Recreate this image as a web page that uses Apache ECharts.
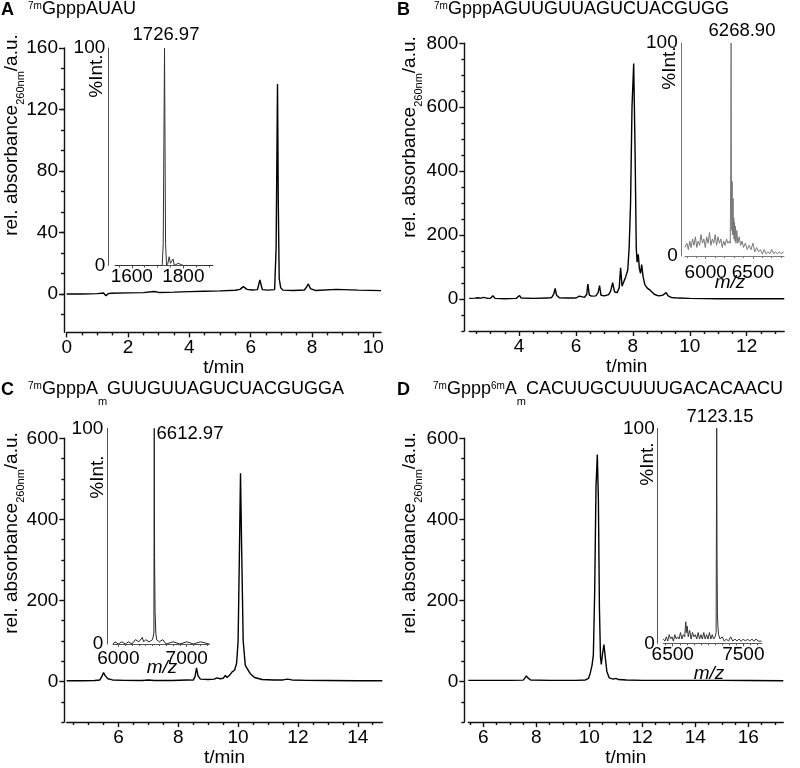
<!DOCTYPE html>
<html><head><meta charset="utf-8">
<script src="https://cdn.jsdelivr.net/npm/echarts@6/dist/echarts.min.js"></script>
<style>html,body{margin:0;padding:0;background:#fff}#c{width:800px;height:768px}</style>
</head><body><div id="c"></div>
<script>
// ---------- DATA ----------
// Panel A chromatogram  [t/min, absorbance]
const chromA = [[0,0],[0.5,0],[1.0,0.2],[1.2,0.6],[1.28,-1.2],[1.35,0.2],[1.45,0.5],[2.0,0.7],[2.5,0.9],[2.85,1.6],[3.0,1.0],[3.5,1.2],[4.0,1.5],[4.5,1.8],[5.0,2.0],[5.5,2.4],[5.65,3.0],[5.76,4.8],[5.88,3.0],[6.05,2.6],[6.22,2.8],[6.3,9.1],[6.38,2.8],[6.55,2.5],[6.78,2.8],[6.83,30],[6.875,136.6],[6.9,60],[6.93,10],[6.98,4],[7.05,2.5],[7.4,2.3],[7.75,2.6],[7.82,4.5],[7.88,6.5],[7.95,3.5],[8.1,2.3],[8.8,3.0],[9.5,2.5],[10.25,2.2]];
// Panel B chromatogram
const chromB = [[2.25,2],[2.45,3],[2.55,4],[2.6,6],[2.66,3],[2.75,5],[2.8,3],[2.9,2],[3.0,2],[3.08,10],[3.16,2],[3.5,1],[3.9,2],[3.96,4],[4.02,11],[4.08,3],[4.5,2],[5.0,3],[5.15,5],[5.22,15],[5.27,33],[5.32,12],[5.42,4],[5.7,3],[5.92,3],[5.97,7],[6.02,4],[6.08,8],[6.12,9],[6.17,4],[6.3,5],[6.38,15],[6.42,47],[6.47,12],[6.55,9],[6.7,10],[6.78,20],[6.83,42],[6.88,12],[7.0,10],[7.15,14],[7.22,25],[7.29,51],[7.36,22],[7.45,20],[7.52,35],[7.57,98],[7.62,40],[7.68,38],[7.75,70],[7.82,90],[7.87,160],[7.92,300],[7.97,600],[8.03,737],[8.08,450],[8.12,160],[8.15,115],[8.19,140],[8.23,95],[8.27,80],[8.31,108],[8.36,70],[8.42,45],[8.5,35],[8.6,28],[8.75,15],[8.9,10],[9.05,12],[9.12,18],[9.17,20],[9.24,10],[9.35,5],[9.6,3],[10.0,2],[11.0,1],[12.0,1],[13.32,1]];
// Panel C chromatogram
const chromC = [[4.27,2],[4.8,2],[5.2,2.5],[5.38,4],[5.44,12],[5.5,22],[5.56,14],[5.65,7],[5.8,4],[6.2,3],[6.8,2.5],[7.0,4],[7.2,2.5],[7.8,2.5],[8.3,4],[8.5,3.5],[8.56,12],[8.61,34],[8.66,14],[8.74,6],[9.0,5],[9.2,6],[9.29,9],[9.34,11],[9.4,7],[9.5,8],[9.57,15],[9.63,10],[9.72,16],[9.8,24],[9.88,28],[9.95,45],[10.0,100],[10.04,300],[10.08,514],[10.12,320],[10.17,100],[10.24,40],[10.32,30],[10.4,20],[10.55,10],[10.8,5],[11.2,4],[11.5,4],[11.65,6],[11.8,4],[12.3,3],[13,2.5],[14,2],[14.82,2]];
// Panel D chromatogram
const chromD = [[5.43,3],[6,3],[7,3],[7.5,3.5],[7.57,9],[7.62,14],[7.68,9],[7.78,4],[8.5,3],[9.5,3],[9.85,4],[9.97,8],[10.03,20],[10.1,40],[10.15,65],[10.2,220],[10.25,480],[10.3,560],[10.34,450],[10.38,180],[10.42,60],[10.45,42],[10.5,70],[10.55,91],[10.6,60],[10.66,25],[10.75,9],[10.9,6],[11.0,8],[11.1,5],[11.4,4],[12,3],[13,3],[14,3],[15,3],[16,2.5],[17.32,2]];

// Mass spectra insets [m/z, %Int.]
const msA = [[1536,0],[1600,0],[1650,0],[1700,0],[1718,0],[1722,10],[1727,100],[1731,10],[1735,0],[1740,1],[1745,4],[1750,1],[1755,2],[1760,3],[1765,0],[1780,1],[1800,0],[1850,0],[1914,0]];
const msB = [[5780,4],[5800,6],[5815,3],[5830,7],[5845,4],[5860,8],[5875,5],[5890,9],[5905,4],[5920,7],[5935,5],[5950,10],[5965,6],[5980,8],[5995,4],[6010,9],[6025,6],[6040,11],[6055,5],[6070,8],[6085,6],[6100,10],[6115,5],[6130,9],[6145,6],[6160,8],[6175,4],[6190,7],[6205,5],[6220,8],[6235,6],[6250,7],[6260,6],[6265,40],[6269,100],[6273,30],[6277,12],[6280,35],[6283,10],[6287,15],[6290,27],[6293,10],[6297,18],[6300,8],[6305,16],[6310,7],[6315,14],[6320,6],[6330,12],[6340,6],[6355,9],[6370,5],[6385,7],[6400,4],[6420,6],[6440,3],[6460,5],[6480,3],[6500,6],[6520,2],[6540,4],[6560,2],[6580,3],[6600,1],[6620,3],[6640,1],[6660,2],[6680,1],[6700,3],[6720,1],[6740,2],[6760,1],[6780,2],[6800,1],[6828,2]];
const msC = [[5922,0],[5950,1],[6000,0],[6050,1],[6100,0],[6150,1],[6200,0],[6250,2],[6300,1],[6350,3],[6370,1],[6400,2],[6450,1],[6500,2],[6520,5],[6525,100],[6530,40],[6537,15],[6548,5],[6560,2],[6600,1],[6650,2],[6700,0],[6800,1],[6900,0],[7000,1],[7100,0],[7200,1],[7328,0]];
const msD = [[6367,2],[6390,1],[6410,3],[6430,1],[6450,4],[6470,2],[6490,3],[6510,1],[6530,4],[6550,2],[6570,3],[6590,2],[6610,5],[6630,2],[6650,4],[6670,3],[6685,10],[6695,5],[6705,8],[6720,3],[6740,6],[6760,2],[6780,5],[6800,3],[6820,4],[6840,2],[6860,5],[6880,2],[6900,4],[6920,2],[6940,5],[6960,2],[6980,4],[7000,2],[7020,5],[7040,2],[7060,4],[7080,2],[7100,3],[7115,5],[7123,100],[7128,40],[7133,14],[7140,8],[7150,4],[7170,2],[7200,3],[7230,1],[7260,2],[7290,1],[7320,3],[7350,1],[7380,2],[7410,1],[7440,2],[7470,1],[7500,2],[7530,1],[7560,2],[7590,1],[7620,2],[7650,1],[7680,2],[7710,1],[7758,1]];

// Tick labels
const ticksAx = [0,2,4,6,8,10], ticksAy = [0,40,80,120,160];
const ticksBx = [4,6,8,10,12], ticksBy = [0,200,400,600,800];
const ticksCx = [6,8,10,12,14], ticksCy = [0,200,400,600];
const ticksDx = [6,8,10,12,14,16], ticksDy = [0,200,400,600];
const insAx = [1600,1800], insBx = [6000,6500], insCx = [6000,7000], insDx = [6500,7500];
const insY = [0,100];

// Texts
const peakLabels = ['1726.97','6268.90','6612.97','7123.15'];
const panelLetters = ['A','B','C','D'];

// ---------- helpers ----------
const FONT = '"Liberation Sans", Arial, Helvetica, sans-serif';
function steps(a, b, s) { const r = []; for (let v = a; v <= b + 1e-9; v += s) r.push(+v.toFixed(4)); return r; }
function minus(arr, excl) { return arr.filter(v => !excl.some(e => Math.abs(e - v) < 1e-6)); }
const plain = v => String(v);

const grids = [], xAxes = [], yAxes = [], series = [];

function addPanel(p) {
  const gi = grids.length;
  grids.push({ left: p.g[0], top: p.g[1], width: p.g[2], height: p.g[3], containLabel: false });
  const col = p.color, lw = p.axisW;
  const lab = { fontSize: p.fs, color: '#000', fontFamily: FONT, formatter: plain, hideOverlap: false, showMinLabel: true, showMaxLabel: true };
  xAxes.push({ type: 'value', gridIndex: gi, position: 'bottom', min: p.x[0], max: p.x[1],
    axisLine: { show: true, onZero: false, lineStyle: { color: col, width: lw } },
    axisTick: { show: true, length: p.tl, customValues: p.xMaj, lineStyle: { color: col, width: lw } },
    axisLabel: Object.assign({ show: true, customValues: p.xMaj, margin: p.xm }, lab),
    splitLine: { show: false },
    name: p.xName || '', nameLocation: 'middle', nameGap: p.xNameGap || 0,
    nameTextStyle: { fontSize: p.fs, color: '#000', fontFamily: FONT } });
  const xi = xAxes.length - 1;
  xAxes.push({ type: 'value', gridIndex: gi, position: 'bottom', min: p.x[0], max: p.x[1],
    axisLine: { show: false, onZero: false },
    axisTick: { show: true, length: p.tlm, customValues: p.xMin, lineStyle: { color: col, width: lw } },
    axisLabel: { show: false }, splitLine: { show: false } });
  yAxes.push({ type: 'value', gridIndex: gi, position: 'left', offset: p.yOff, min: p.y[0], max: p.y[1],
    axisLine: { show: true, onZero: false, lineStyle: { color: col, width: lw } },
    axisTick: { show: p.yTicks !== false, length: p.tl, customValues: p.yMaj, lineStyle: { color: col, width: lw } },
    axisLabel: Object.assign({ show: true, customValues: p.yMaj, margin: p.ym }, lab),
    splitLine: { show: false } });
  const yi = yAxes.length - 1;
  if (p.yMin && p.yMin.length) {
    yAxes.push({ type: 'value', gridIndex: gi, position: 'left', offset: p.yOff, min: p.y[0], max: p.y[1],
      axisLine: { show: false, onZero: false },
      axisTick: { show: true, length: p.tlm, customValues: p.yMin, lineStyle: { color: col, width: lw } },
      axisLabel: { show: false }, splitLine: { show: false } });
  }
  series.push({ type: 'line', xAxisIndex: xi, yAxisIndex: yi, data: p.data, showSymbol: false, symbol: 'none',
    clip: true, lineStyle: { color: p.lineColor, width: p.lineW }, z: p.z || 2 });
}

const MAIN = { color: '#111', axisW: 1.4, tl: 5, tlm: 3, fs: 19, lineColor: '#000', lineW: 1.4, xm: 6, ym: 6, xName: 't/min', xNameGap: 24 };
const INS = { color: '#555', axisW: 1, tl: 3, tlm: 2, fs: 19, lineW: 1, z: 3 };

addPanel(Object.assign({}, MAIN, { g: [66.7, 48, 314.3, 284.4], x: [0, 10.25], y: [-25, 160], yOff: 2.7,
  xMaj: ticksAx, xMin: minus(steps(0, 10, 0.5), ticksAx), yMaj: ticksAy, yMin: minus(steps(-13.333, 160, 40/3), ticksAy).filter(v => v > -25), data: chromA }));
addPanel(Object.assign({}, MAIN, { g: [469.2, 43.3, 315, 287.7], x: [2.25, 13.318], y: [-100, 800], yOff: 4.9,
  xMaj: ticksBx, xMin: minus(steps(2.5, 13, 0.5), ticksBx), yMaj: ticksBy, yMin: minus(steps(-100, 800, 50), ticksBy), data: chromB }));
addPanel(Object.assign({}, MAIN, { g: [66.7, 438.3, 315.6, 286.7], x: [4.27, 14.82], y: [-100, 600], yOff: 2.4,
  xMaj: ticksCx, xMin: minus(steps(4.5, 14.5, 0.5), ticksCx), yMaj: ticksCy, yMin: minus(steps(-100, 600, 50), ticksCy), data: chromC }));
addPanel(Object.assign({}, MAIN, { g: [468.3, 438.3, 315, 286.7], x: [5.43, 17.32], y: [-100, 600], yOff: 4,
  xMaj: ticksDx, xMin: minus(steps(5.5, 17, 0.5), ticksDx), yMaj: ticksDy, yMin: minus(steps(-100, 600, 50), ticksDy), data: chromD }));

addPanel(Object.assign({}, INS, { g: [115, 48, 98, 217.5], x: [1535, 1915], y: [0, 100], yOff: 6.7, xm: 2, ym: 3,
  xMaj: insAx, xMin: minus(steps(1550, 1900, 50), insAx), yMaj: insY, yMin: [], data: msA, lineColor: '#333', yTicks: false }));
addPanel(Object.assign({}, INS, { g: [685, 43, 99, 213], x: [5780, 6830], y: [0, 100], yOff: 3.3, xm: 7, ym: 4,
  xMaj: insBx, xMin: minus(steps(5800, 6800, 100), insBx), yMaj: insY, yMin: [], data: msB, lineColor: '#777', color: '#777', yTicks: false }));
addPanel(Object.assign({}, INS, { g: [113, 428.3, 96.3, 215.7], x: [5922, 7330], y: [0, 100], yOff: 5.7, xm: 5, ym: 4,
  xMaj: insCx, xMin: minus(steps(6000, 7300, 100), insCx), yMaj: insY, yMin: [], data: msC, lineColor: '#222', yTicks: false }));
addPanel(Object.assign({}, INS, { g: [663.3, 428.3, 98.4, 215], x: [6367, 7760], y: [0, 100], yOff: 5.6, xm: 2, ym: 3,
  xMaj: insDx, xMin: minus(steps(6400, 7700, 100), insDx), yMaj: insY, yMin: [], data: msD, lineColor: '#333', yTicks: false }));

// ---------- graphic texts ----------
const graphics = [];
function txt(x, y, text, extra, elExtra) {
  graphics.push(Object.assign({ type: 'text', x: x, y: y, silent: true, z: 10,
    style: Object.assign({ text: text, fontFamily: FONT, fontSize: 19, fill: '#000', align: 'center', verticalAlign: 'middle' }, extra || {}) }, elExtra || {}));
}
const letterPos = [[1, 0], [397, 0], [1, 380], [397, 380]];
panelLetters.forEach((L, i) => txt(letterPos[i][0], letterPos[i][1], L, { fontWeight: 'bold', fontSize: 18, align: 'left', verticalAlign: 'top', lineHeight: 20 }));
const richT = {
  n: { fontFamily: FONT, fontSize: 18, lineHeight: 20, verticalAlign: 'top', fill: '#000' },
  sup: { fontFamily: FONT, fontSize: 10, lineHeight: 10, verticalAlign: 'top', padding: [1, 0, 0, 0], fill: '#000' },
  sub: { fontFamily: FONT, fontSize: 11, lineHeight: 11, verticalAlign: 'top', padding: [16, 0, 0, 0], fill: '#000' }
};
const titles = [
  [28, 0, '{sup|7m}{n|GpppAUAU}'],
  [434, 0, '{sup|7m}{n|GpppAGUUGUUAGUCUACGUGG}'],
  [28, 380, '{sup|7m}{n|GpppA}{sub|m}{n|GUUGUUAGUCUACGUGGA}'],
  [433, 380, '{sup|7m}{n|Gppp}{sup|6m}{n|A}{sub|m}{n|CACUUGCUUUUGACACAACU}']
];
titles.forEach(t => txt(t[0], t[1], t[2], { rich: richT, align: 'left', verticalAlign: 'top' }));

const richY = {
  n: { fontFamily: FONT, fontSize: 19, lineHeight: 22, verticalAlign: 'top', fill: '#000' },
  s: { fontFamily: FONT, fontSize: 11, lineHeight: 11, verticalAlign: 'top', padding: [13, 0, 0, 0], fill: '#000' }
};
[[13, 135], [411, 137], [13, 533], [411, 533]].forEach(p =>
  txt(p[0], p[1], '{n|rel. absorbance}{s|260nm}{n|/a.u.}', { rich: richY }, { rotation: Math.PI / 2 }));

[[97, 76], [670, 68], [98, 477], [648, 464]].forEach(p => txt(p[0], p[1], '%Int.', { fontSize: 19 }, { rotation: Math.PI / 2 }));
[[166, 35], [742, 31], [190, 434], [720, 417]].forEach((p, i) => txt(p[0], p[1], peakLabels[i], { fontSize: 18.5 }));
[[730, 283], [162, 668], [709, 674]].forEach(p => txt(p[0], p[1], 'm/z', { fontSize: 19, fontStyle: 'italic' }));

const chart = echarts.init(document.getElementById('c'), null, { renderer: 'canvas' });
chart.setOption({
  animation: false,
  backgroundColor: '#fff',
  grid: grids, xAxis: xAxes, yAxis: yAxes, series: series,
  graphic: { elements: graphics }
});
</script></body></html>
